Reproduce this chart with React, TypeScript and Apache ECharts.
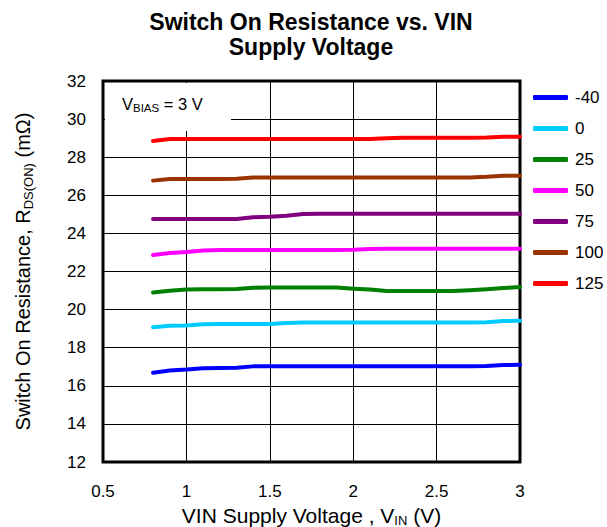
import React, { useEffect, useRef } from "react";
import * as echarts from "echarts";

const xValues = [0.8, 0.9, 1.0, 1.1, 1.2, 1.3, 1.4, 1.5, 1.6, 1.7, 1.8, 1.9, 2.0, 2.1, 2.2, 2.3, 2.4, 2.5, 2.6, 2.7, 2.8, 2.9, 3.0];
const temps = ["-40", "0", "25", "50", "75", "100", "125"];
const colors = ["#0000ff", "#00ccff", "#008000", "#ff00ff", "#800080", "#993300", "#ff0000"];

const rM40 = [16.68, 16.8, 16.85, 16.92, 16.94, 16.95, 17.02, 17.02, 17.02, 17.02, 17.02, 17.02, 17.02, 17.02, 17.02, 17.02, 17.02, 17.02, 17.02, 17.02, 17.04, 17.09, 17.1];
const r0 = [19.07, 19.15, 19.17, 19.23, 19.24, 19.24, 19.24, 19.24, 19.3, 19.32, 19.32, 19.32, 19.32, 19.32, 19.32, 19.32, 19.32, 19.32, 19.32, 19.32, 19.33, 19.4, 19.42];
const r25 = [20.9, 20.99, 21.05, 21.07, 21.07, 21.08, 21.15, 21.16, 21.16, 21.16, 21.16, 21.16, 21.1, 21.05, 20.98, 20.98, 20.98, 20.98, 20.98, 21.02, 21.07, 21.13, 21.18];
const r50 = [22.87, 22.97, 23.02, 23.1, 23.13, 23.13, 23.13, 23.13, 23.13, 23.13, 23.13, 23.13, 23.14, 23.18, 23.2, 23.2, 23.2, 23.2, 23.2, 23.2, 23.2, 23.2, 23.2];
const r75 = [24.76, 24.76, 24.76, 24.76, 24.76, 24.76, 24.85, 24.88, 24.93, 25.02, 25.03, 25.03, 25.03, 25.03, 25.03, 25.03, 25.03, 25.03, 25.03, 25.03, 25.03, 25.03, 25.03];
const r100 = [26.77, 26.85, 26.86, 26.86, 26.86, 26.87, 26.94, 26.94, 26.94, 26.94, 26.94, 26.94, 26.94, 26.94, 26.94, 26.94, 26.94, 26.94, 26.94, 26.94, 26.97, 27.02, 27.03];
const r125 = [28.85, 28.95, 28.95, 28.95, 28.95, 28.95, 28.95, 28.95, 28.95, 28.95, 28.95, 28.95, 28.95, 28.95, 28.99, 29.02, 29.02, 29.02, 29.02, 29.02, 29.03, 29.07, 29.08];

const seriesValues = [rM40, r0, r25, r50, r75, r100, r125];

const FONT = "'Liberation Sans', Arial, sans-serif";

export default function App() {
  const ref = useRef<HTMLDivElement>(null);
  useEffect(() => {
    document.body.style.margin = "0";
    const chart = echarts.init(ref.current!, null, { renderer: "svg" });
    chart.setOption({
      animation: false,
      textStyle: { fontFamily: FONT },
      title: {
        text: "Switch On Resistance vs. VIN\nSupply Voltage",
        left: 311,
        textAlign: "center",
        top: 9,
        padding: 0,
        textStyle: { fontFamily: FONT, fontSize: 23, fontWeight: "bold", color: "#000", lineHeight: 25 },
      },
      legend: {
        orient: "vertical",
        left: 533,
        top: 89,
        padding: 0,
        itemWidth: 35,
        itemHeight: 5,
        itemGap: 14,
        icon: "roundRect",
        data: temps,
        textStyle: { fontFamily: FONT, fontSize: 17, color: "#000", padding: [0, 0, 0, 2] },
      },
      grid: {
        left: 103,
        top: 81,
        width: 417,
        height: 381,
        show: true,
        borderColor: "#000",
        borderWidth: 3,
        containLabel: false,
        outerBoundsMode: "none",
      },
      xAxis: {
        type: "value",
        min: 0.5,
        max: 3,
        interval: 0.5,
        axisLine: { show: false },
        axisTick: { show: false },
        splitLine: { show: true, lineStyle: { color: "#000", width: 1 } },
        axisLabel: { fontFamily: FONT, fontSize: 17, color: "#000", margin: 21 },
        name: "{a|VIN Supply Voltage , V}{s|IN}{a| (V)}",
        nameLocation: "middle",
        nameGap: 35,
        nameTextStyle: {
          rich: {
            a: { fontFamily: FONT, fontSize: 21, color: "#000", lineHeight: 24 },
            s: { fontFamily: FONT, fontSize: 13, color: "#000", lineHeight: 16, verticalAlign: "bottom" },
          },
        },
      },
      yAxis: {
        type: "value",
        min: 12,
        max: 32,
        interval: 2,
        axisLine: { show: false },
        axisTick: { show: false },
        splitLine: { show: true, lineStyle: { color: "#000", width: 1 } },
        axisLabel: { fontFamily: FONT, fontSize: 17, color: "#000", margin: 17 },
        name: "{a|Switch On Resistance, R}{s|DS(ON)}{a| (mΩ)}",
        nameLocation: "middle",
        nameGap: 68,
        nameTextStyle: {
          rich: {
            a: { fontFamily: FONT, fontSize: 20, color: "#000", lineHeight: 24 },
            s: { fontFamily: FONT, fontSize: 13, color: "#000", lineHeight: 16, verticalAlign: "bottom" },
          },
        },
      },
      graphic: [
        {
          type: "rect",
          z: 50,
          shape: { x: 105, y: 83, width: 126, height: 48 },
          style: { fill: "#fff" },
        },
        {
          type: "text",
          z: 51,
          x: 122,
          y: 104,
          style: {
            text: "{a|V}{b|BIAS}{a| = 3 V}",
            verticalAlign: "middle",
            rich: {
              a: { fontFamily: FONT, fontSize: 16.5, fill: "#000", lineHeight: 20 },
              b: { fontFamily: FONT, fontSize: 11.5, fill: "#000", lineHeight: 14, verticalAlign: "bottom" },
            },
          },
        },
      ],
      series: seriesValues.map((vals, si) => ({
        name: temps[si],
        type: "line",
        symbol: "none",
        color: colors[si],
        lineStyle: { width: 4, color: colors[si], cap: "round", join: "round" },
        data: xValues.map((x, i) => [x, vals[i]]),
      })),
    });
    return () => chart.dispose();
  }, []);
  return <div ref={ref} style={{ width: 607, height: 527 }} />;
}
